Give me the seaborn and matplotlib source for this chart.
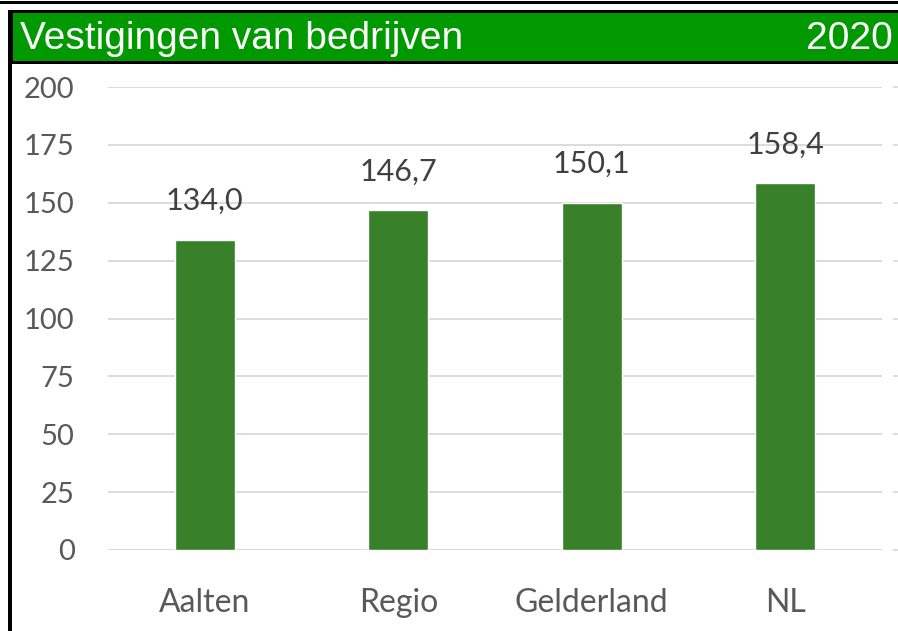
import numpy as np
import pandas as pd
import matplotlib
matplotlib.use("Agg")
import matplotlib.pyplot as plt
import seaborn as sns
from matplotlib.patches import Rectangle

# ===============================
# data
# ===============================
categories = ["Aalten", "Regio", "Gelderland", "NL"]
values = [134.0, 146.7, 150.1, 158.4]
y_ticks = [0, 25, 50, 75, 100, 125, 150, 175, 200]
title = "Vestigingen van bedrijven"
year = "2020"

df = pd.DataFrame({"gebied": categories, "waarde": values})

BAR_GREEN = "#38812A"
HEAD_GREEN = "#009900"
GRID = "#D9D9D9"
TXT = "#595959"

sns.set_style("white")
plt.rcParams["font.family"] = ["Lato", "DejaVu Sans"]

W, H = 898, 631
fig = plt.figure(figsize=(W / 100, H / 100), dpi=100)

# ===============================
# header frame
# ===============================
fig.patches.append(Rectangle((0, 1 - 4 / H), 1, 3 / H, transform=fig.transFigure,
                             facecolor="black", edgecolor="none"))
fig.patches.append(Rectangle((8 / W, 0), 4 / W, 1 - 10 / H, transform=fig.transFigure,
                             facecolor="black", edgecolor="none"))
fig.patches.append(Rectangle((12 / W, 1 - 64 / H), 1, 54 / H, transform=fig.transFigure,
                             facecolor="black", edgecolor="none"))
fig.patches.append(Rectangle((13 / W, 1 - 61 / H), 1, 48 / H, transform=fig.transFigure,
                             facecolor=HEAD_GREEN, edgecolor="none"))
head_font = ["Liberation Sans Narrow", "Liberation Sans", "DejaVu Sans"]
fig.text(20 / W, 1 - 39 / H, title, color="white", fontsize=28, va="center",
         ha="left", family=head_font)
fig.text(893 / W, 1 - 39 / H, year, color="white", fontsize=28, va="center",
         ha="right", family=head_font)

# ===============================
# bars
# ===============================
ax = fig.add_axes([108 / W, 1 - 550 / H, (882 - 108) / W, (550 - 87) / H])
sns.barplot(data=df, x="gebied", y="waarde", color=BAR_GREEN, width=0.31,
            saturation=1, ax=ax, zorder=3)

ax.set_ylim(0, 200)
ax.set_xlim(-0.5, 3.5)
ax.set_yticks(y_ticks)
ax.yaxis.grid(True, color=GRID, linewidth=1.3, zorder=0)
ax.set_axisbelow(True)
for s in ax.spines.values():
    s.set_visible(False)
ax.set_xlabel("")
ax.set_ylabel("")
ax.tick_params(axis="y", length=0, pad=24, labelsize=21, labelcolor=TXT)
ax.tick_params(axis="x", length=0, pad=27, labelsize=23, labelcolor=TXT)

labels = [f"{v:.1f}".replace(".", ",") for v in values]
ax.bar_label(ax.containers[0], labels=labels, padding=18, fontsize=22, color="#404040")

# small dashes on the right (secondary axis)
ax2 = ax.twinx()
ax2.set_ylim(0, 200)
ax2.set_yticks(y_ticks)
ax2.set_yticklabels([])
for s in ax2.spines.values():
    s.set_visible(False)
ax2.spines["right"].set_position(("outward", 8))
ax2.tick_params(axis="y", right=True, length=6, width=1.2, color=GRID, direction="out")

fig.savefig("out.png", dpi=100)
plt.close(fig)
